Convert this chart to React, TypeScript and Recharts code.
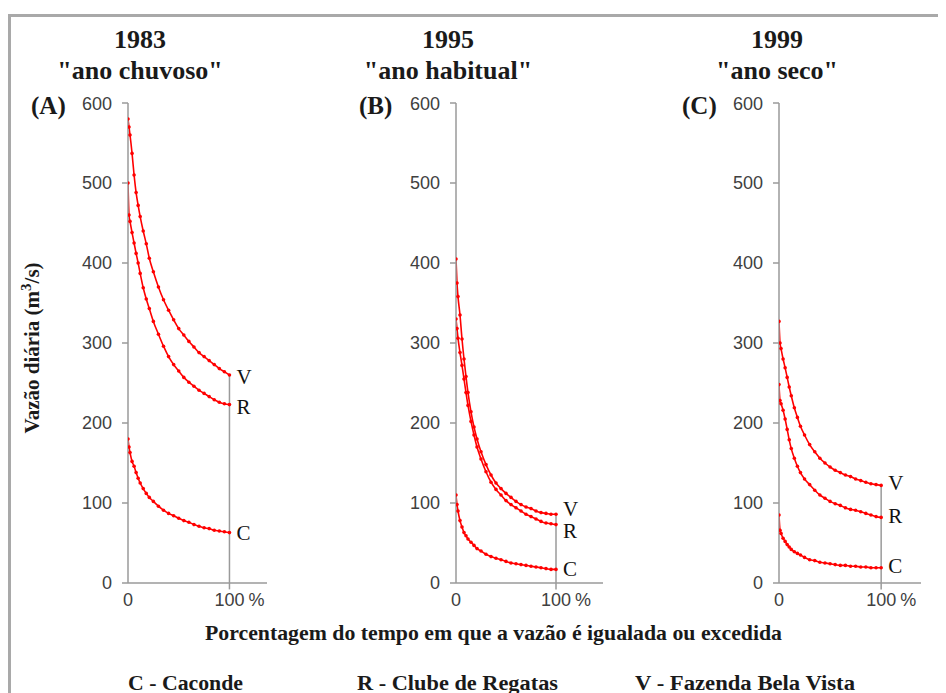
import { LineChart, Line, XAxis, YAxis, ReferenceLine } from 'recharts';

// porcentagem do tempo (%)
const pct = [0, 1, 2, 4, 6, 8, 10, 12, 15, 18, 21, 25, 30, 35, 40, 45, 50, 55, 60, 65, 70, 75, 80, 85, 90, 95, 100];

// 1983 "ano chuvoso"
const a1983C = [180, 170, 163, 152, 146, 138, 131, 125, 118, 112, 107, 102, 96, 91, 87, 84, 81, 78, 76, 73, 71, 69, 68, 66, 65, 64, 63];
const a1983R = [500, 460, 452, 438, 425, 412, 400, 387, 369, 355, 343, 327, 311, 296, 283, 273, 265, 257, 251, 246, 241, 237, 233, 229, 226, 224, 223];
const a1983V = [580, 570, 560, 537, 510, 488, 472, 458, 440, 424, 406, 389, 370, 354, 341, 329, 318, 310, 302, 295, 288, 283, 278, 273, 268, 264, 260];

// 1995 "ano habitual"
const a1995C = [110, 98, 90, 78, 70, 63, 59, 55, 51, 47, 43, 40, 36, 33, 31, 29, 27, 25, 24, 23, 22, 21, 20, 19, 18, 17, 17];
const a1995R = [330, 318, 306, 288, 272, 255, 238, 222, 202, 185, 170, 155, 139, 126, 117, 110, 103, 98, 94, 90, 86, 83, 80, 77, 75, 74, 73];
const a1995V = [405, 375, 358, 335, 305, 280, 258, 238, 214, 195, 180, 164, 148, 135, 125, 118, 112, 107, 102, 98, 95, 93, 90, 88, 87, 86, 86];

// 1999 "ano seco"
const a1999C = [85, 66, 62, 56, 52, 48, 45, 42, 39, 37, 35, 32, 29, 28, 26, 25, 24, 23, 22, 22, 21, 21, 20, 20, 19, 19, 19];
const a1999R = [248, 228, 224, 216, 205, 192, 179, 168, 156, 146, 138, 130, 123, 116, 110, 106, 102, 99, 97, 94, 92, 91, 89, 87, 85, 83, 82];
const a1999V = [327, 300, 293, 280, 269, 257, 245, 234, 219, 207, 196, 185, 173, 164, 156, 150, 145, 141, 138, 135, 133, 130, 128, 126, 124, 123, 122];

const yTicks = [0, 100, 200, 300, 400, 500, 600];
const xTicks = [0, 100];

const RED = '#ff0000';
const AXIS = '#9a9a9a';
const SERIF = '"Liberation Serif", "Times New Roman", serif';
const TICKFONT = '"Liberation Sans", Arial, sans-serif';

const panels = [
  { letter: '(A)', year: '1983', kind: '"ano chuvoso"', C: a1983C, R: a1983R, V: a1983V, xMax: 137, left: 60, plotW: 139, titleX: 132, dy: { V: 2, R: 2, C: 0 } },
  { letter: '(B)', year: '1995', kind: '"ano habitual"', C: a1995C, R: a1995R, V: a1995V, xMax: 147, left: 388, plotW: 147, titleX: 440, dy: { V: -6, R: 6, C: -1 } },
  { letter: '(C)', year: '1999', kind: '"ano seco"', C: a1999C, R: a1999R, V: a1999V, xMax: 139, left: 711, plotW: 142, titleX: 769, dy: { V: -3, R: -2, C: -2 } },
];

const makeDot = (tag: string, dy: number) => (props: any) => {
  const { cx, cy, index } = props;
  if (cx == null || cy == null) return <g key={`${tag}-${index}`} />;
  return (
    <g key={`${tag}-${index}`}>
      <circle cx={cx} cy={cy} r={1.8} fill={RED} />
      {index === pct.length - 1 && (
        <text x={cx + 7} y={cy + dy} dy="0.35em" fontFamily={SERIF} fontSize={21} fill="#111">
          {tag}
        </text>
      )}
    </g>
  );
};

const XTick = ({ x, y, payload }: any) => (
  <g>
    <text x={x} y={y + 2} dy="0.71em" textAnchor="middle" fontFamily={TICKFONT} fontSize={18} fill="#404040">
      {payload.value}
    </text>
    {payload.value === 100 && (
      <text x={x + 19} y={y + 2} dy="0.71em" fontFamily={TICKFONT} fontSize={18} fill="#404040">%</text>
    )}
  </g>
);

function Panel({ p }: { p: (typeof panels)[number] }) {
  const data = pct.map((x, i) => ({ x, C: p.C[i], R: p.R[i], V: p.V[i] }));
  const vEnd = p.V[p.V.length - 1];
  return (
    <div style={{ position: 'absolute', left: p.left, top: 85 }}>
      <LineChart width={60 + p.plotW + 5} height={530} data={data} margin={{ top: 10, right: 5, bottom: 10, left: 0 }}>
        <XAxis
          dataKey="x"
          type="number"
          domain={[0, p.xMax]}
          ticks={xTicks}
          tick={<XTick />}
          tickLine={false}
          axisLine={{ stroke: AXIS, strokeWidth: 1.5 }}
          height={30}
          allowDataOverflow
        />
        <YAxis
          domain={[0, 600]}
          ticks={yTicks}
          width={60}
          tickSize={6}
          tickMargin={10}
          tickLine={{ stroke: AXIS, strokeWidth: 1.5 }}
          axisLine={{ stroke: AXIS, strokeWidth: 1.5 }}
          tick={{ fontFamily: TICKFONT, fontSize: 18, fill: '#404040' }}
        />
        <ReferenceLine segment={[{ x: 100, y: -8 }, { x: 100, y: vEnd }]} stroke={AXIS} strokeWidth={1.5} ifOverflow="visible" />
        {(['C', 'R', 'V'] as const).map((k) => (
          <Line
            key={k}
            type="monotone"
            dataKey={k}
            stroke={RED}
            strokeWidth={1.6}
            dot={makeDot(k, p.dy[k])}
            activeDot={false}
            isAnimationActive={false}
          />
        ))}
      </LineChart>
    </div>
  );
}

export default function App() {
  return (
    <div style={{ position: 'relative', width: 938, height: 685, overflow: 'hidden', background: '#fff' }}>
      <div style={{ position: 'absolute', left: 0, top: 6, width: 1000, height: 800, border: '3px solid #a9a9a9', boxSizing: 'border-box' }} />
      {panels.map((p) => (
        <Panel key={p.year} p={p} />
      ))}
      <svg width={938} height={685} style={{ position: 'absolute', left: 0, top: 0, pointerEvents: 'none' }}>
        <g fontFamily={SERIF} fontWeight="bold" fill="#1a1a1a">
          {panels.map((p) => (
            <g key={p.year}>
              <text x={p.titleX} y={31} dy="0.35em" textAnchor="middle" fontSize={26}>{p.year}</text>
              <text x={p.titleX} y={62} dy="0.35em" textAnchor="middle" fontSize={26}>{p.kind}</text>
              <text x={p.left - 37} y={97} dy="0.35em" fontSize={25}>{p.letter}</text>
            </g>
          ))}
          <text transform="translate(24,340) rotate(-90)" textAnchor="middle" dy="0.35em" fontSize={21}>
            Vazão diária (m<tspan dy="-8" fontSize={15}>3</tspan><tspan dy="8">/s)</tspan>
          </text>
          <text x={197} y={625} dy="0.35em" fontSize={21} textLength={577} lengthAdjust="spacingAndGlyphs">
            Porcentagem do tempo em que a vazão é igualada ou excedida
          </text>
          <text x={120} y={675} dy="0.35em" fontSize={20} textLength={115} lengthAdjust="spacingAndGlyphs">C - Caconde</text>
          <text x={349} y={675} dy="0.35em" fontSize={20} textLength={201} lengthAdjust="spacingAndGlyphs">R - Clube de Regatas</text>
          <text x={627} y={675} dy="0.35em" fontSize={20} textLength={220} lengthAdjust="spacingAndGlyphs">V - Fazenda Bela Vista</text>
        </g>
      </svg>
    </div>
  );
}
